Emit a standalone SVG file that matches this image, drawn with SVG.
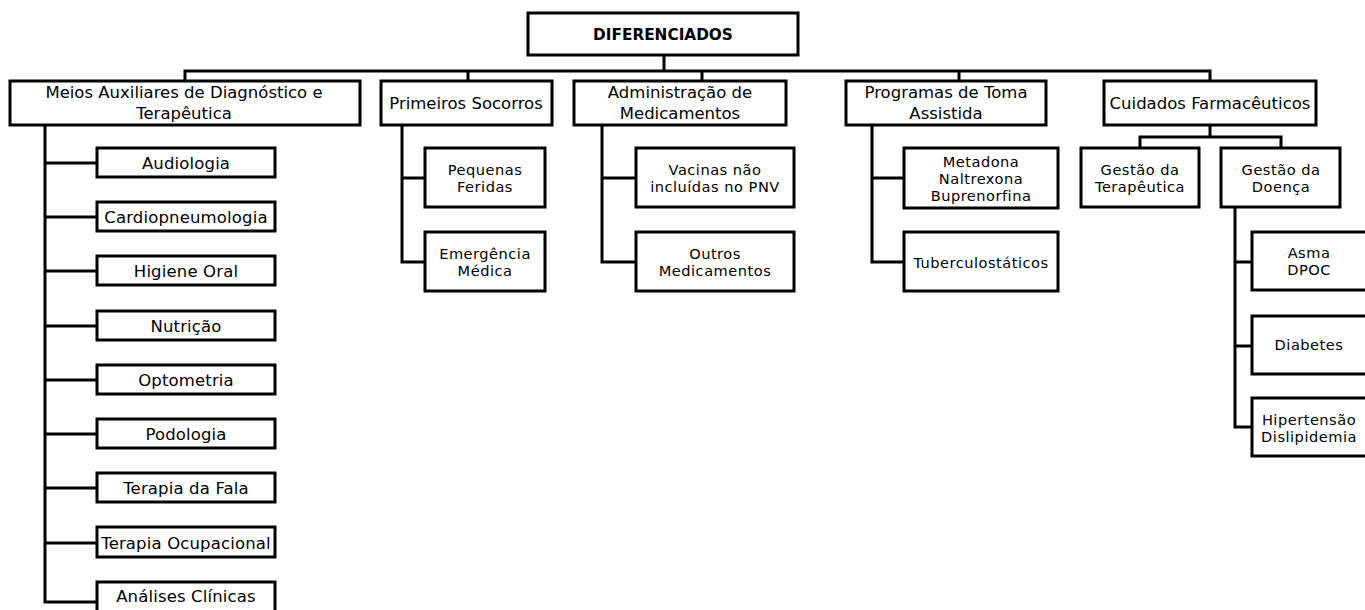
<svg xmlns="http://www.w3.org/2000/svg" width="1365" height="610" viewBox="0 0 1365 610">
  <style>
    .box { fill: #ffffff; stroke: #000000; stroke-width: 3; }
    .wire { fill: none; stroke: #000000; stroke-width: 3; }
    text { font-family: "DejaVu Sans", "Open Sans", sans-serif; fill: #000000; text-anchor: middle; }
    .t0 { font-size: 15.3px; font-weight: bold; }
    .t1 { font-size: 16.5px; }
    .t2 { font-size: 16.5px; letter-spacing: 0.15px; }
    .t3 { font-size: 14.6px; letter-spacing: 0.5px; }
  </style>
  <rect width="1365" height="610" fill="#ffffff"/>

  <!-- connectors -->
  <g id="connectors" class="wire">
    <path d="M664 55 V71"/>
    <path d="M185 81 V71 H1210 V81"/>
    <path d="M468 71 V81 M702 71 V81 M959 71 V81"/>
    <!-- Meios Auxiliares -->
    <path d="M45 125 V602 H97"/>
    <path d="M45 163 H97 M45 217 H97 M45 271 H97 M45 326 H97 M45 380 H97 M45 434 H97 M45 488 H97 M45 543 H97"/>
    <!-- Primeiros Socorros -->
    <path d="M402 125 V262 H425 M402 178 H425"/>
    <!-- Administração de Medicamentos -->
    <path d="M602 125 V262 H636 M602 178 H636"/>
    <!-- Programas de Toma Assistida -->
    <path d="M872 125 V262 H904 M872 178 H904"/>
    <!-- Cuidados Farmacêuticos -->
    <path d="M1210 125 V137 M1140 148 V137 H1281 V148"/>
    <path d="M1235 207 V427 H1252 M1235 262 H1252 M1235 346 H1252"/>
  </g>

  <g id="n-diferenciados">
    <rect class="box" x="528" y="13" width="270" height="42"/>
    <text class="t0" x="663" y="40">DIFERENCIADOS</text>
  </g>

  <g id="n-meios">
    <rect class="box" x="10" y="81" width="350" height="44"/>
    <text class="t1" x="184" y="98">Meios Auxiliares de Diagnóstico e<tspan x="184" dy="21">Terapêutica</tspan></text>
  </g>
  <g id="n-primeiros">
    <rect class="box" x="381" y="81" width="171" height="44"/>
    <text class="t1" x="466" y="109">Primeiros Socorros</text>
  </g>
  <g id="n-administracao">
    <rect class="box" x="574" y="81" width="212" height="44"/>
    <text class="t1" x="680" y="98">Administração de<tspan x="680" dy="21">Medicamentos</tspan></text>
  </g>
  <g id="n-programas">
    <rect class="box" x="846" y="81" width="200" height="44"/>
    <text class="t1" x="946" y="98">Programas de Toma<tspan x="946" dy="21">Assistida</tspan></text>
  </g>
  <g id="n-cuidados">
    <rect class="box" x="1104" y="81" width="212" height="44"/>
    <text class="t1" x="1210" y="109">Cuidados Farmacêuticos</text>
  </g>

  <!-- Meios Auxiliares children -->
  <g id="n-audiologia">
    <rect class="box" x="97" y="148" width="178" height="29"/>
    <text class="t2" x="186" y="169">Audiologia</text>
  </g>
  <g id="n-cardiopneumologia">
    <rect class="box" x="97" y="202" width="178" height="29"/>
    <text class="t2" x="186" y="223">Cardiopneumologia</text>
  </g>
  <g id="n-higiene">
    <rect class="box" x="97" y="256" width="178" height="29"/>
    <text class="t2" x="186" y="277">Higiene Oral</text>
  </g>
  <g id="n-nutricao">
    <rect class="box" x="97" y="311" width="178" height="29"/>
    <text class="t2" x="186" y="332">Nutrição</text>
  </g>
  <g id="n-optometria">
    <rect class="box" x="97" y="365" width="178" height="29"/>
    <text class="t2" x="186" y="386">Optometria</text>
  </g>
  <g id="n-podologia">
    <rect class="box" x="97" y="419" width="178" height="29"/>
    <text class="t2" x="186" y="440">Podologia</text>
  </g>
  <g id="n-terapia-fala">
    <rect class="box" x="97" y="473" width="178" height="29"/>
    <text class="t2" x="186" y="494">Terapia da Fala</text>
  </g>
  <g id="n-terapia-ocupacional">
    <rect class="box" x="97" y="527" width="178" height="30"/>
    <text class="t2" x="186" y="549">Terapia Ocupacional</text>
  </g>
  <g id="n-analises">
    <rect class="box" x="97" y="582" width="178" height="40"/>
    <text class="t2" x="186" y="602">Análises Clínicas</text>
  </g>

  <!-- Primeiros Socorros children -->
  <g id="n-pequenas-feridas">
    <rect class="box" x="425" y="148" width="120" height="59"/>
    <text class="t3" x="485" y="175">Pequenas<tspan x="485" dy="17">Feridas</tspan></text>
  </g>
  <g id="n-emergencia">
    <rect class="box" x="425" y="232" width="120" height="59"/>
    <text class="t3" x="485" y="259">Emergência<tspan x="485" dy="17">Médica</tspan></text>
  </g>

  <!-- Administração children -->
  <g id="n-vacinas">
    <rect class="box" x="636" y="148" width="158" height="59"/>
    <text class="t3" x="715" y="175">Vacinas não<tspan x="715" dy="17">incluídas no PNV</tspan></text>
  </g>
  <g id="n-outros">
    <rect class="box" x="636" y="232" width="158" height="59"/>
    <text class="t3" x="715" y="259">Outros<tspan x="715" dy="17">Medicamentos</tspan></text>
  </g>

  <!-- Programas children -->
  <g id="n-metadona">
    <rect class="box" x="904" y="148" width="154" height="60"/>
    <text class="t3" x="981" y="167">Metadona<tspan x="981" dy="17">Naltrexona</tspan><tspan x="981" dy="17">Buprenorfina</tspan></text>
  </g>
  <g id="n-tuberculostaticos">
    <rect class="box" x="904" y="232" width="154" height="59"/>
    <text class="t3" x="981" y="268">Tuberculostáticos</text>
  </g>

  <!-- Cuidados Farmacêuticos children -->
  <g id="n-gestao-terapeutica">
    <rect class="box" x="1081" y="148" width="118" height="59"/>
    <text class="t3" x="1140" y="175">Gestão da<tspan x="1140" dy="17">Terapêutica</tspan></text>
  </g>
  <g id="n-gestao-doenca">
    <rect class="box" x="1221" y="148" width="119" height="59"/>
    <text class="t3" x="1281" y="175">Gestão da<tspan x="1281" dy="17">Doença</tspan></text>
  </g>
  <g id="n-asma">
    <rect class="box" x="1252" y="232" width="125" height="58"/>
    <text class="t3" x="1309" y="258">Asma<tspan x="1309" dy="17">DPOC</tspan></text>
  </g>
  <g id="n-diabetes">
    <rect class="box" x="1252" y="316" width="125" height="58"/>
    <text class="t3" x="1309" y="350">Diabetes</text>
  </g>
  <g id="n-hipertensao">
    <rect class="box" x="1252" y="398" width="125" height="58"/>
    <text class="t3" x="1309" y="425">Hipertensão<tspan x="1309" dy="17">Dislipidemia</tspan></text>
  </g>
</svg>
